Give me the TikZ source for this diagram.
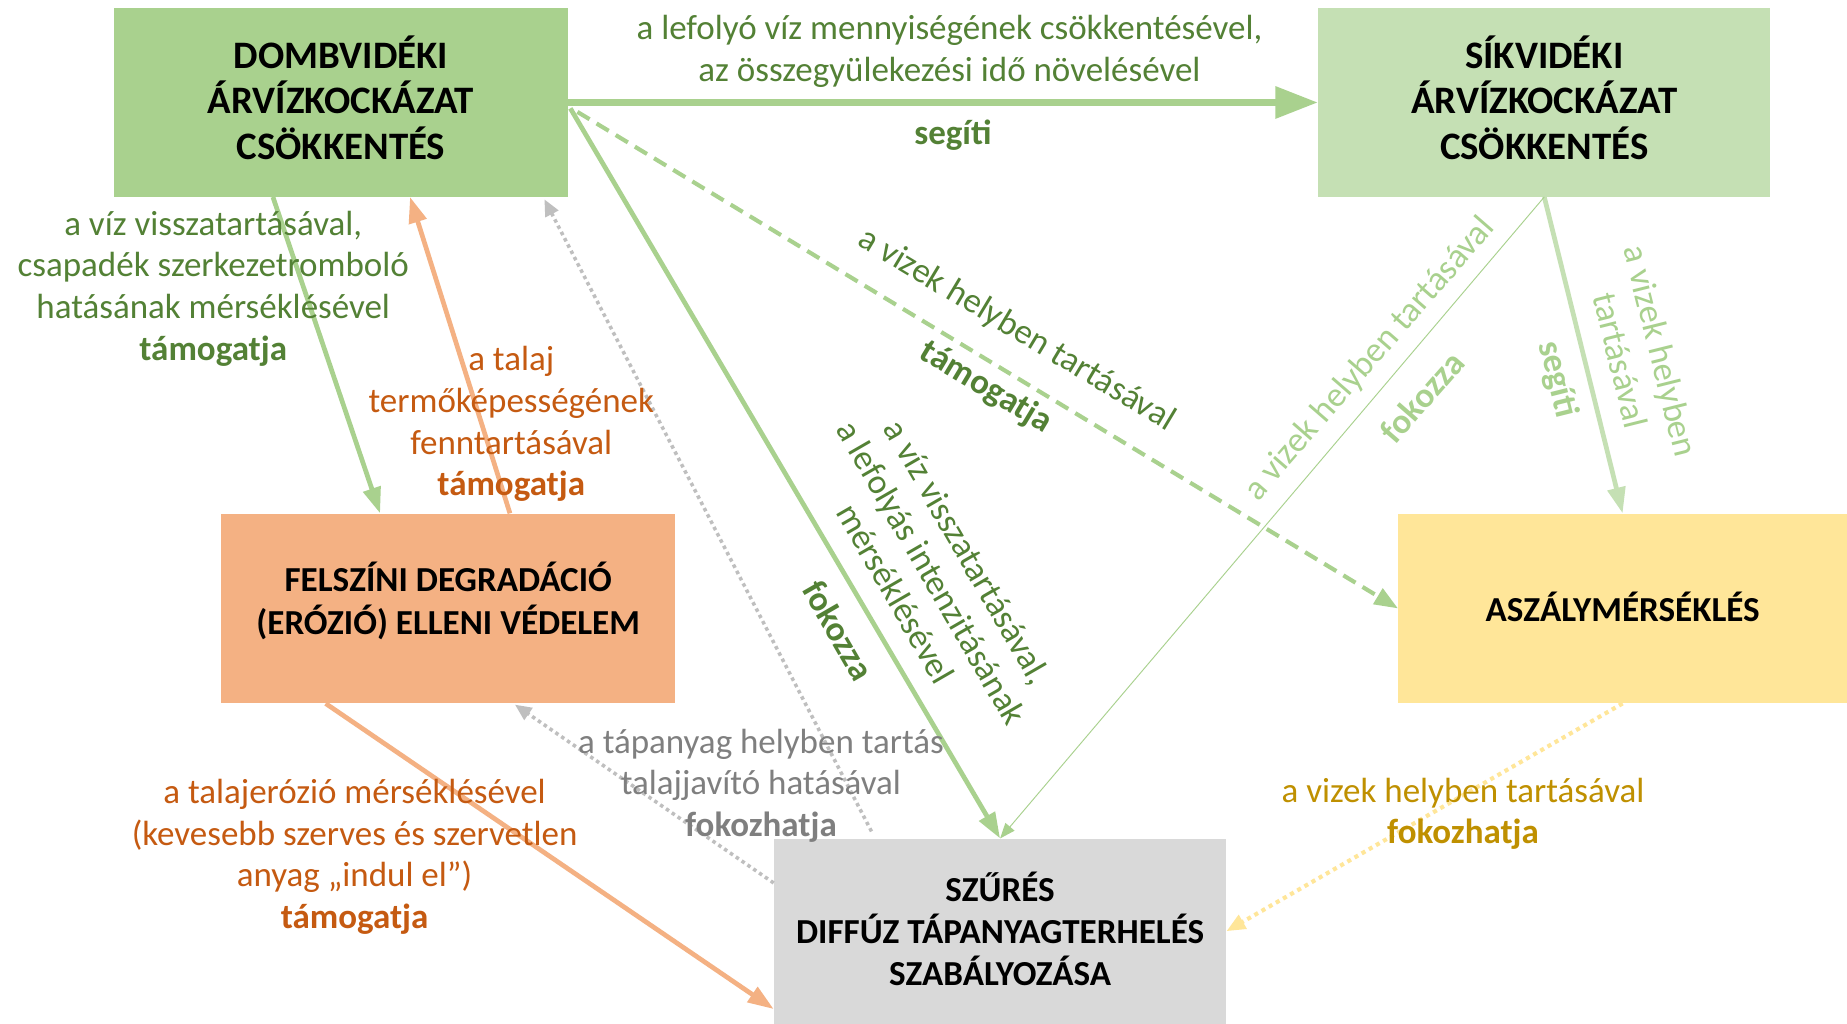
\documentclass[tikz,border=0pt]{standalone}
\usepackage{fontspec}
\setmainfont{Carlito}
\usetikzlibrary{arrows.meta,calc}
\definecolor{gA}{HTML}{A9D18E}
\definecolor{gB}{HTML}{C5E0B4}
\definecolor{oC}{HTML}{F4B183}
\definecolor{yD}{HTML}{FFE699}
\definecolor{grE}{HTML}{D9D9D9}
\definecolor{tG}{HTML}{538135}
\definecolor{tO}{HTML}{C55A11}
\definecolor{tGr}{HTML}{7F7F7F}
\definecolor{tY}{HTML}{BF9000}
\definecolor{tLG}{HTML}{A9D18E}
\definecolor{lGr}{HTML}{BFBFBF}
\begin{document}
\begin{tikzpicture}[x=1pt,y=-1pt,
  box/.style={rectangle, inner sep=0pt},
  bigtxt/.style={inner sep=0pt, align=center, text=black, font=\fontsize{33}{39}\selectfont\bfseries},
  smalltxt/.style={inner sep=0pt, align=center, text=black, font=\fontsize{29.8}{36}\selectfont\bfseries},
  lbl/.style={align=center, inner sep=0pt, font=\fontsize{29.7}{35.3}\selectfont},
  blbl/.style={lbl, font=\fontsize{29.7}{35.3}\selectfont\bfseries},
  thickG/.style={draw=gA, line width=6, -{Triangle[length=36,width=26]}},
  midG/.style={draw=gA, line width=4, -{Triangle[length=22,width=15]}},
  midO/.style={draw=oC, line width=4, -{Triangle[length=22,width=15]}},
  midLG/.style={draw=gB, line width=4, -{Triangle[length=22,width=15]}},
  dashG/.style={draw=gA, line width=3.5, dash pattern=on 12 off 7, -{Triangle[length=20,width=15]}},
  dotGr/.style={draw=lGr, line width=3, dash pattern=on 3 off 3, -{Triangle[length=14,width=12]}},
  dotY/.style={draw=yD, line width=3.5, dash pattern=on 3.5 off 3.5, -{Triangle[length=16,width=13]}},
  thinG/.style={draw=gA, line width=0.8, -{Triangle[length=13,width=10]}},
]
\useasboundingbox[fill=white] (0,0) rectangle (1568,869);

% boxes
\node[box, fill=gA, minimum width=385, minimum height=160] (A) at (289.5,87) {};
\node[box, fill=gB, minimum width=384, minimum height=160] (B) at (1311,87) {};
\node[box, fill=oC, minimum width=385, minimum height=161] (C) at (380.5,516.5) {};
\node[box, fill=yD, minimum width=381, minimum height=161] (D) at (1377.5,516.5) {};
\node[box, fill=grE, minimum width=384, minimum height=157] (E) at (849,790.5) {};

\node[bigtxt] (At) at ($(A.center)+(0,-4)$) {DOMBVIDÉKI\\ÁRVÍZKOCKÁZAT\\CSÖKKENTÉS};
\node[bigtxt] (Bt) at ($(B.center)+(0,-4)$) {SÍKVIDÉKI\\ÁRVÍZKOCKÁZAT\\CSÖKKENTÉS};
\node[smalltxt] (Ct) at ($(C.center)+(0,-6.5)$) {FELSZÍNI DEGRADÁCIÓ\\(ERÓZIÓ) ELLENI VÉDELEM};
\node[smalltxt] (Dt) at ($(D.center)+(0,-1)$) {ASZÁLYMÉRSÉKLÉS};
\node[smalltxt] (Et) at ($(E.center)+(0,-2)$) {SZŰRÉS\\DIFFÚZ TÁPANYAGTERHELÉS\\SZABÁLYOZÁSA};

% connectors
\draw[thickG] (A.east) -- (B.west);
\draw[midG] ($(A.south west)!0.35!(A.south east)$) -- ($(C.north west)!0.35!(C.north east)$);
\draw[midO] ($(C.north west)!0.636!(C.north east)$) -- ($(A.south west)!0.652!(A.south east)$);
\draw[dotGr] ($(E.north west)!0.216!(E.north east)+(0,-6)$) -- ($(A.south west)!0.948!(A.south east)+(0,2)$);
\draw[dotGr] ($(E.north west)!0.24!(E.south west)$) -- ($(C.south west)!0.647!(C.south east)+(0,1)$);
\draw[midG] ($(A.east)+(2,5)$) -- (E.north);
\draw[dashG] ($(A.east)+(8,8)$) -- (D.west);
\draw[midLG] (B.south) -- (D.north);
\draw[thinG] (B.south) -- (E.north);
\draw[dotY] (D.south) -- (E.east);
\draw[midO] ($(C.south west)!0.23!(C.south east)$) -- ($(E.north west)!0.92!(E.south west)$);

% labels
\node[lbl, text=tG] (l1) at (806,43.5) {a lefolyó víz mennyiségének csökkentésével,\\az összegyülekezési idő növelésével};
\node[blbl, text=tG] (l1b) at (809,115) {segíti};
\node[lbl, text=tG] (l2) at (181,245) {a víz visszatartásával,\\csapadék szerkezetromboló\\hatásának mérséklésével\\\textbf{támogatja}};
\node[lbl, text=tO] (l3) at (434,360) {a talaj\\termőképességének\\fenntartásával\\\textbf{támogatja}};
\node[lbl, text=tGr] (l4) at (646,667) {a tápanyag helyben tartás\\talajjavító hatásával\\\textbf{fokozhatja}};
\node[lbl, text=tO] (l5) at (301,727.5) {a talajerózió mérséklésével\\(kevesebb szerves és szervetlen\\anyag „indul el”)\\\textbf{támogatja}};
\node[lbl, text=tY] (l6) at (1242,691) {a vizek helyben tartásával\\\textbf{fokozhatja}};
\node[lbl, text=tG, rotate=-31] (l7) at (863,280) {a vizek helyben tartásával};
\node[blbl, text=tG, rotate=-31] (l7b) at (837,329) {támogatja};
\node[lbl, text=tG, rotate=-60] (l8) at (791,486) {a víz visszatartásával,\\a lefolyás intenzitásának\\mérséklésével};
\node[blbl, text=tG, rotate=-60] (l8b) at (712,535) {fokozza};
\node[lbl, text=tLG, rotate=49] (l9) at (1163,305) {a vizek helyben tartásával};
\node[blbl, text=tLG, rotate=49] (l9b) at (1207,337) {fokozza};
\node[lbl, text=tLG, rotate=-76] (l10) at (1393,302) {a vizek helyben\\tartásával};
\node[blbl, text=tLG, rotate=-76] (l10b) at (1322,322) {segíti};
\end{tikzpicture}
\end{document}
